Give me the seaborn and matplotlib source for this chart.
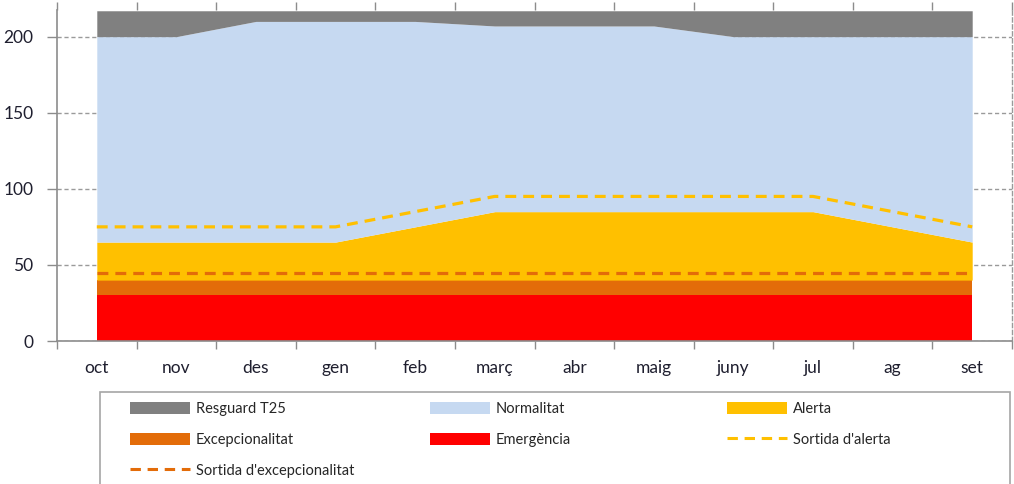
import matplotlib
matplotlib.use("Agg")
import matplotlib.pyplot as plt
from matplotlib.patches import Patch, Rectangle
from matplotlib.lines import Line2D
import numpy as np
import seaborn as sns

months = ["oct", "nov", "des", "gen", "feb", "març", "abr", "maig", "juny", "jul", "ag", "set"]
# upper limit of each zone (hm3)
emergencia_top = [30, 30, 30, 30, 30, 30, 30, 30, 30, 30, 30, 30]
excepcionalitat_top = [40, 40, 40, 40, 40, 40, 40, 40, 40, 40, 40, 40]
alerta_top = [65, 65, 65, 65, 75, 85, 85, 85, 85, 85, 75, 65]
normalitat_top = [200, 200, 210, 210, 210, 207, 207, 207, 200, 200, 200, 200]
resguard_top = [217, 217, 217, 217, 217, 217, 217, 217, 217, 217, 217, 217]
sortida_alerta = [75, 75, 75, 75, 85, 95, 95, 95, 95, 95, 85, 75]
sortida_excepcionalitat = [45, 45, 45, 45, 45, 45, 45, 45, 45, 45, 45, 45]
yticks = [0, 50, 100, 150, 200]

labels = ["Resguard T25", "Normalitat", "Alerta", "Excepcionalitat", "Emergència",
          "Sortida d'alerta", "Sortida d'excepcionalitat"]
colors = {"Resguard T25": "#808080", "Normalitat": "#C6D9F1", "Alerta": "#FFC000",
          "Excepcionalitat": "#E36C09", "Emergència": "#FF0000",
          "Sortida d'alerta": "#FFC000", "Sortida d'excepcionalitat": "#E36C09"}

sns.set_theme(style="white")
plt.rcParams['font.family'] = ['Lato', 'DejaVu Sans']

fig = plt.figure(figsize=(10.14, 4.84), dpi=100)
ax = fig.add_axes([57/1014, 1-341/484, (1012-57)/1014, (341-10)/484])

x = np.arange(len(months))
levels = [np.zeros(len(months)), emergencia_top, excepcionalitat_top, alerta_top, normalitat_top, resguard_top]
zone_names = ["Emergència", "Excepcionalitat", "Alerta", "Normalitat", "Resguard T25"]
for i, name in enumerate(zone_names):
    ax.fill_between(x, levels[i], levels[i+1], color=colors[name], linewidth=0, zorder=2)

dash = (0, (3.4, 2.2))
sns.lineplot(x=x, y=sortida_alerta, ax=ax, color=colors["Sortida d'alerta"], linewidth=2.3,
             zorder=3, legend=False)
sns.lineplot(x=x, y=sortida_excepcionalitat, ax=ax, color=colors["Sortida d'excepcionalitat"],
             linewidth=2.3, zorder=3, legend=False)
for ln in ax.lines:
    ln.set_linestyle(dash)

ax.set_xlim(-0.5, len(months) - 0.5)
ax.set_ylim(0, 217.5)
ax.set_yticks(yticks)
ax.set_yticklabels([str(v) for v in yticks])
ax.set_xticks(np.arange(-0.5, len(months)), minor=False)
ax.set_xticklabels([])
ax.set_xticks(x, minor=True)
ax.set_xticklabels(months, minor=True)

ax.yaxis.grid(True, color="#9A9A9A", linestyle=(0, (3, 2)), linewidth=1, zorder=0)
ax.set_axisbelow(True)

for s in ["left", "bottom"]:
    ax.spines[s].set_color("#8C8C8C")
    ax.spines[s].set_linewidth(1.2)
ax.spines["top"].set_visible(False)
ax.spines["right"].set_color("#9A9A9A")
ax.spines["right"].set_linestyle((0, (3, 2)))
ax.spines["right"].set_linewidth(1)

ax.tick_params(axis="y", which="major", left=True, length=7, width=1, color="#8C8C8C",
               labelsize=12.5, labelcolor="#1F1F2F", pad=10, direction="out")
ax.tick_params(axis="x", which="major", bottom=True, top=True, length=6, width=1,
               color="#8C8C8C", direction="out")
ax.tick_params(axis="x", which="minor", bottom=False, top=False, length=0,
               labelsize=12.5, labelcolor="#1F1F2F", pad=14)

# legend frame
fig.patches.append(Rectangle((100/1014, -0.02), (1010-100)/1014, (1-392/484) + 0.02,
                             transform=fig.transFigure, fill=False, edgecolor="#A6A6A6",
                             linewidth=1.2))

def handle(name):
    if name.startswith("Sortida"):
        return Line2D([0], [0], color=colors[name], linewidth=2.2, linestyle=dash)
    return Patch(facecolor=colors[name], edgecolor="none")

columns = [(130, ["Resguard T25", "Excepcionalitat", "Sortida d'excepcionalitat"]),
           (430, ["Normalitat", "Emergència"]),
           (727, ["Alerta", "Sortida d'alerta"])]
for xpix, names in columns:
    fig.legend([handle(n) for n in names], names, loc="upper left",
               bbox_to_anchor=(xpix/1014, 1-402/484), bbox_transform=fig.transFigure,
               frameon=False, borderaxespad=0, borderpad=0, fontsize=10.5,
               handlelength=4.1, handleheight=0.9, handletextpad=0.4,
               labelspacing=1.15)

fig.savefig("out.png", dpi=100)
